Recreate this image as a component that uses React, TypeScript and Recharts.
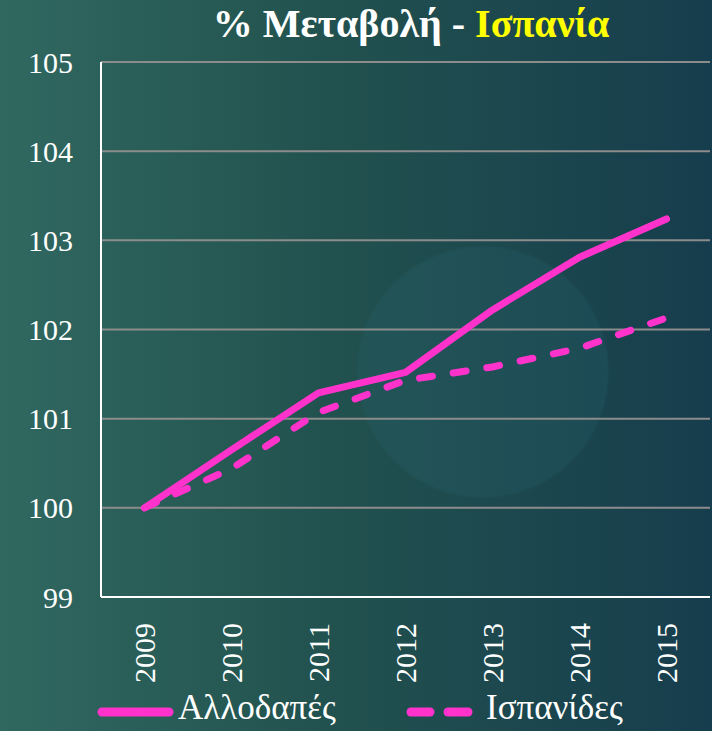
import React from "react";
import { LineChart, Line, XAxis, YAxis, CartesianGrid } from "recharts";

const years = ["2009", "2010", "2011", "2012", "2013", "2014", "2015"];
const allodapes = [100, 100.65, 101.29, 101.52, 102.22, 102.81, 103.24];
const ispanides = [100, 100.44, 101.07, 101.43, 101.58, 101.79, 102.13];
const yTicks = [99, 100, 101, 102, 103, 104, 105];

const data = years.map((y, i) => ({
    year: y,
    allodapes: allodapes[i],
    ispanides: ispanides[i],
}));

const serif = "Liberation Serif, Times New Roman, Tinos, DejaVu Serif, serif";
const pink = "#ff33cc";

function YearTick(props: any) {
    const { x, y, payload } = props;
    return (
        <text
            x={x}
            y={y + 18}
            transform={`rotate(-90, ${x}, ${y + 18})`}
            textAnchor="end"
            dy="0.35em"
            fill="#ffffff"
            fontSize={30}
            style={{ fontFamily: serif }}
        >
            {payload.value}
        </text>
    );
}

export default function App() {
    return (
        <div
            style={{
                position: "absolute",
                top: 0,
                left: 0,
                width: 712,
                height: 731,
                overflow: "hidden",
                background:
                    "radial-gradient(circle at 483px 372px, rgba(40,100,110,0.25) 0, rgba(40,100,110,0.25) 124px, rgba(0,0,0,0) 127px), linear-gradient(90deg, #306860 0%, #22524f 45%, #163d4d 100%)",
                fontFamily: serif,
            }}
        >
            <div
                style={{
                    position: "absolute",
                    top: 0,
                    left: 0,
                    width: 712,
                    paddingLeft: 110,
                    boxSizing: "border-box",
                    textAlign: "center",
                    fontSize: 40,
                    fontWeight: "bold",
                    color: "#ffffff",
                }}
            >
                % Μεταβολή - <span style={{ color: "#ffff00" }}>Ισπανία</span>
            </div>
            <LineChart
                width={712}
                height={731}
                data={data}
                margin={{ top: 62, right: 2, bottom: 0, left: 0 }}
            >
                <CartesianGrid
                    vertical={false}
                    stroke="#8c8c8c"
                    strokeWidth={2}
                />
                <XAxis
                    dataKey="year"
                    height={134}
                    padding={{ left: 43.5, right: 43.5 }}
                    axisLine={{ stroke: "#ffffff", strokeWidth: 2 }}
                    tickLine={false}
                    tick={<YearTick />}
                    interval={0}
                />
                <YAxis
                    width={101}
                    domain={[99, 105]}
                    ticks={yTicks}
                    axisLine={{ stroke: "#ffffff", strokeWidth: 2 }}
                    tickLine={false}
                    tickSize={0}
                    tickMargin={28}
                    tick={{ fill: "#ffffff", fontSize: 30, style: { fontFamily: serif } }}
                />
                <Line
                    type="linear"
                    dataKey="allodapes"
                    stroke={pink}
                    strokeWidth={7}
                    strokeLinecap="round"
                    strokeLinejoin="round"
                    dot={false}
                    isAnimationActive={false}
                />
                <Line
                    type="linear"
                    dataKey="ispanides"
                    stroke={pink}
                    strokeWidth={7}
                    strokeLinecap="round"
                    strokeDasharray="13 21"
                    dot={false}
                    isAnimationActive={false}
                />
            </LineChart>
            <div
                style={{
                    position: "absolute",
                    top: 688,
                    left: 0,
                    width: 712,
                    height: 43,
                    color: "#ffffff",
                    fontSize: 35,
                }}
            >
                <svg
                    width={712}
                    height={43}
                    style={{ position: "absolute", left: 0, top: 0 }}
                >
                    <line x1={102} y1={24} x2={169} y2={24} stroke={pink} strokeWidth={9} strokeLinecap="round" />
                    <line x1={411} y1={24} x2={430} y2={24} stroke={pink} strokeWidth={9} strokeLinecap="round" />
                    <line x1={448} y1={24} x2={468} y2={24} stroke={pink} strokeWidth={9} strokeLinecap="round" />
                </svg>
                <span style={{ position: "absolute", left: 178, top: 0 }}>Αλλοδαπές</span>
                <span style={{ position: "absolute", left: 486, top: 0 }}>Ισπανίδες</span>
            </div>
        </div>
    );
}
